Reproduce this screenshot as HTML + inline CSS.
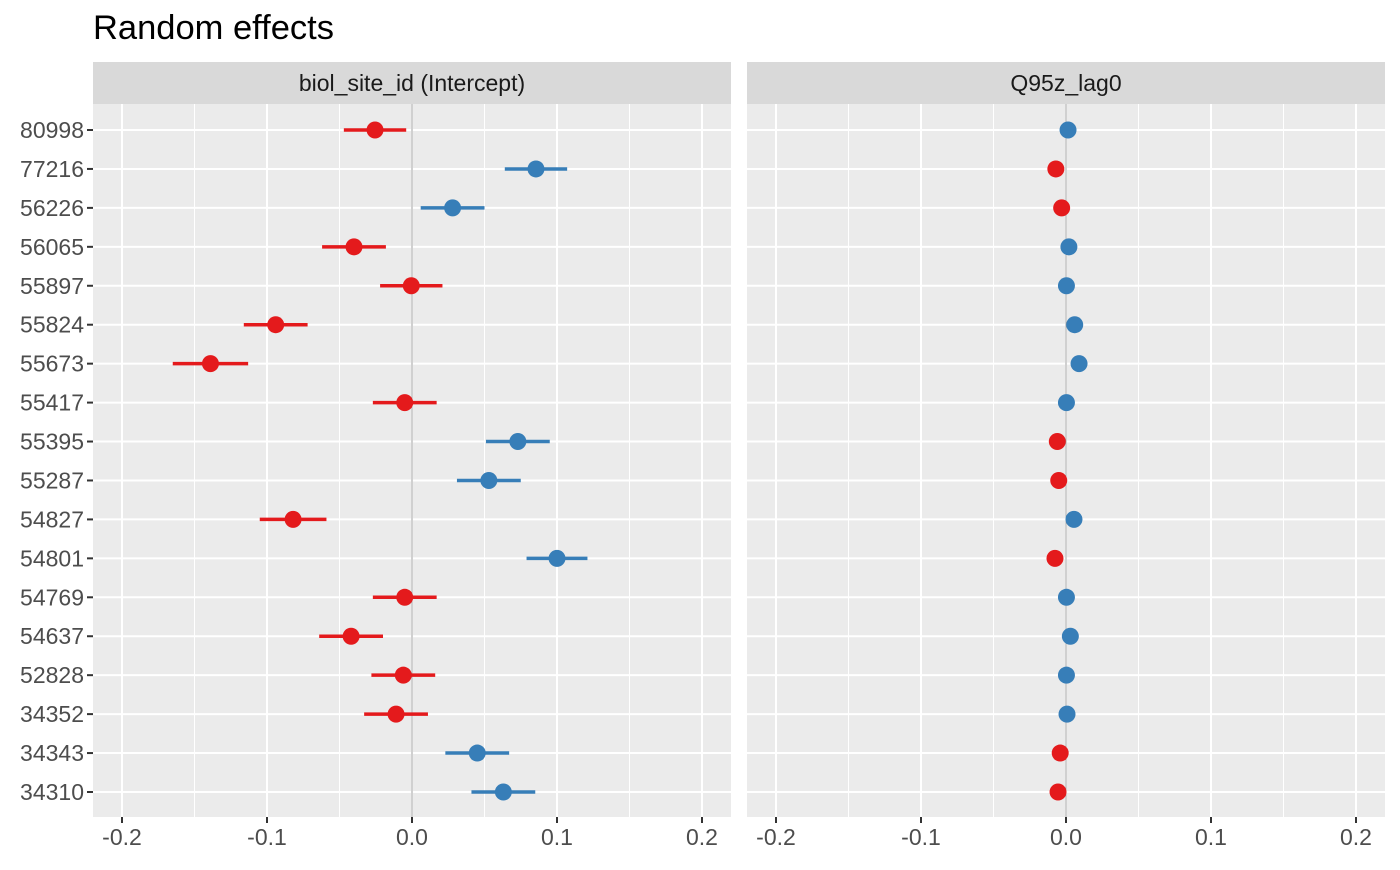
<!DOCTYPE html>
<html><head><meta charset="utf-8"><style>
body{margin:0;background:#fff;}
svg text{font-family:"Liberation Sans",Arial,sans-serif;}
</style></head><body>
<svg id="chart" width="1400" height="865" viewBox="0 0 1400 865" xmlns="http://www.w3.org/2000/svg">
<text x="93" y="39" font-size="34.5" fill="#000">Random effects</text>
</svg>
<script>
const sites = ["80998","77216","56226","56065","55897","55824","55673","55417","55395","55287","54827","54801","54769","54637","52828","34352","34343","34310"];
const interceptVals = [-0.0255,0.0855,0.028,-0.040,-0.0005,-0.094,-0.139,-0.005,0.073,0.053,-0.082,0.100,-0.005,-0.042,-0.006,-0.011,0.045,0.063];
const interceptLo = [-0.047,0.064,0.006,-0.062,-0.022,-0.116,-0.165,-0.027,0.051,0.031,-0.105,0.079,-0.027,-0.064,-0.028,-0.033,0.023,0.041];
const interceptHi = [-0.004,0.107,0.050,-0.018,0.021,-0.072,-0.113,0.017,0.095,0.075,-0.059,0.121,0.017,-0.020,0.016,0.011,0.067,0.085];
const slopeVals = [0.0014,-0.007,-0.003,0.002,0.0003,0.006,0.009,0.0003,-0.006,-0.005,0.0055,-0.0076,0.0003,0.003,0.0003,0.0007,-0.004,-0.0055];
const xTicks = [-0.2,-0.1,0.0,0.1,0.2];
const xTickLabels = ["-0.2","-0.1","0.0","0.1","0.2"];
const minorTicks = [-0.15,-0.05,0.05,0.15];
const panelTitles = ["biol_site_id (Intercept)","Q95z_lag0"];

const svg = document.getElementById('chart');
const NS = "http://www.w3.org/2000/svg";
function mk(tag, attrs, parent){const e=document.createElementNS(NS,tag);for(const k in attrs)e.setAttribute(k,attrs[k]);(parent||svg).appendChild(e);return e;}
const top0=104, bot0=817;
function yPos(i){return 130 + i*(792-130)/(sites.length-1);}
const panels=[{x0:93,x1:731,zero:412},{x0:747,x1:1385,zero:1066}];
const RED="#E41A1C", BLUE="#377EB8";

panels.forEach((p,pi)=>{
  const xs=v=>p.zero+v*1450;
  const g=mk('g',{});
  
  
  mk('rect',{x:p.x0,y:top0,width:p.x1-p.x0,height:bot0-top0,fill:'#EBEBEB'},g);
  const strip=mk('rect',{x:p.x0,y:62,width:p.x1-p.x0,height:42,fill:'#D9D9D9'},g);
  
  
  const st=mk('text',{x:(p.x0+p.x1)/2,y:91,'text-anchor':'middle','font-size':23,fill:'#1A1A1A'},g);
  st.textContent=panelTitles[pi];
  
  
  minorTicks.forEach(t=>mk('line',{x1:xs(t),x2:xs(t),y1:top0,y2:bot0,stroke:'#fff','stroke-width':1},g));
  xTicks.forEach((t,i)=>{
    mk('line',{x1:xs(t),x2:xs(t),y1:top0,y2:bot0,stroke:'#fff','stroke-width':2},g);
    mk('line',{x1:xs(t),x2:xs(t),y1:bot0,y2:bot0+6,stroke:'#333','stroke-width':2},g);
    const tl=mk('text',{x:xs(t),y:845,'text-anchor':'middle','font-size':23,fill:'#4D4D4D'},g);
    tl.textContent=xTickLabels[i];
    
    
  });
  sites.forEach((s,i)=>mk('line',{x1:p.x0,x2:p.x1,y1:yPos(i),y2:yPos(i),stroke:'#fff','stroke-width':2},g));
  mk('line',{x1:xs(0),x2:xs(0),y1:top0,y2:bot0,stroke:'#A0A0A0','stroke-width':1},g);
  sites.forEach((s,i)=>{
    const v = pi===0?interceptVals[i]:slopeVals[i];
    const c = v<0?RED:BLUE;
    if(pi===0){
      const l=mk('line',{x1:xs(interceptLo[i]),x2:xs(interceptHi[i]),y1:yPos(i),y2:yPos(i),stroke:c,'stroke-width':3.5},g);
      
      
    }
    const pt=mk('circle',{cx:xs(v),cy:yPos(i),r:8.5,fill:c},g);
    
    
  });
});
sites.forEach((s,i)=>{
  mk('line',{x1:87,x2:93,y1:yPos(i),y2:yPos(i),stroke:'#333','stroke-width':2});
  const t=mk('text',{x:84,y:yPos(i)+8,'text-anchor':'end','font-size':23,fill:'#4D4D4D'});
  t.textContent=s;
  
  
});
</script>
</body></html>
